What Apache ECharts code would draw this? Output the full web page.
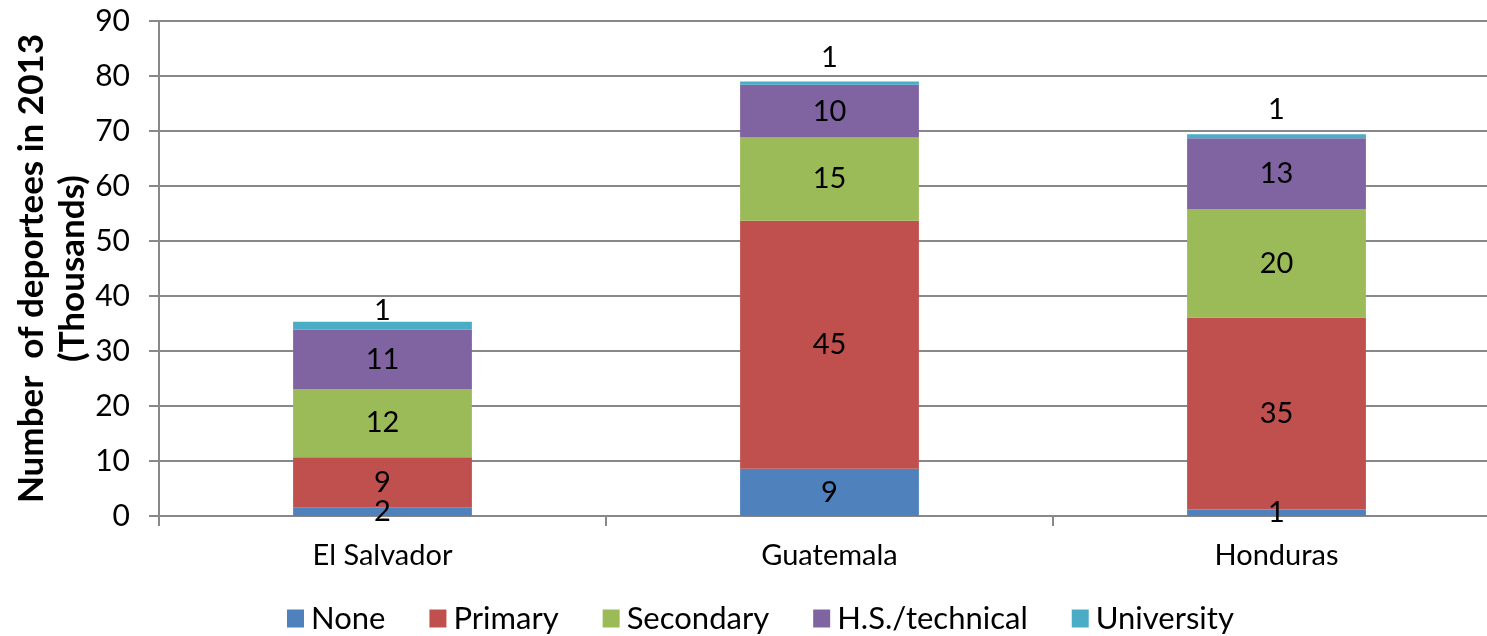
<!DOCTYPE html>
<html>
<head>
<meta charset="utf-8">
<script src="https://cdn.jsdelivr.net/npm/echarts@6/dist/echarts.min.js"></script>
<style>
html,body{margin:0;padding:0;background:#fff;}
#c{width:1487px;height:636px;}
</style>
</head>
<body>
<div id="c"></div>
<script>
const categories = ['El Salvador', 'Guatemala', 'Honduras'];
const seriesNames = ['None', 'Primary', 'Secondary', 'H.S./technical', 'University'];
const noneVals = [1.6, 8.6, 1.2];
const primaryVals = [9.1, 45.1, 34.9];
const secondaryVals = [12.4, 15.1, 19.7];
const hsVals = [10.8, 9.6, 12.9];
const universityVals = [1.4, 0.6, 0.7];
const yTicks = [0, 10, 20, 30, 40, 50, 60, 70, 80, 90];

const colors = ['#4F81BD', '#C0504D', '#9BBB59', '#8064A2', '#4BACC6'];
const allVals = [noneVals, primaryVals, secondaryVals, hsVals, universityVals];
const FONT = 'Lato';
const topLabelDist = [-3, 9, 10];

const series = allVals.map((vals, i) => {
  const isTop = i === allVals.length - 1;
  return {
    name: seriesNames[i],
    type: 'bar',
    stack: 'total',
    barWidth: '40%',
    itemStyle: { color: colors[i] },
    label: {
      show: true,
      position: isTop ? 'top' : 'inside',
      color: '#000',
      fontFamily: FONT,
      fontSize: 29,
      formatter: p => String(Math.round(p.value))
    },
    data: vals.map((v, j) => isTop ? { value: v, label: { distance: topLabelDist[j] } } : v)
  };
});

const chart = echarts.init(document.getElementById('c'));
chart.setOption({
  animation: false,
  color: colors,
  grid: { left: 159, width: 1341, top: 21, bottom: 120, containLabel: false, outerBoundsMode: 'none' },
  legend: {
    data: seriesNames,
    left: 282,
    top: 598,
    itemWidth: 17,
    itemHeight: 18,
    itemGap: 44,
    icon: 'rect',
    textStyle: { fontFamily: FONT, fontSize: 31, color: '#000', padding: [0, 0, 0, 2] }
  },
  xAxis: {
    type: 'category',
    data: categories,
    axisLine: { lineStyle: { color: '#888', width: 2 } },
    axisTick: { show: true, length: 10, lineStyle: { color: '#888', width: 2 } },
    axisLabel: { color: '#000', fontFamily: FONT, fontSize: 29, margin: 25 }
  },
  yAxis: {
    type: 'value',
    min: yTicks[0],
    max: yTicks[yTicks.length - 1],
    interval: yTicks[1] - yTicks[0],
    name: 'Number  of deportees in 2013\n(Thousands)',
    nameLocation: 'middle',
    nameGap: 66,
    nameMoveOverlap: false,
    nameRotate: 90,
    nameTextStyle: { fontFamily: FONT, fontSize: 35, fontWeight: 'bold', color: '#000', lineHeight: 41 },
    axisLine: { show: true, lineStyle: { color: '#888', width: 2 } },
    axisTick: { show: true, length: 10, lineStyle: { color: '#888', width: 2 } },
    axisLabel: { color: '#000', fontFamily: FONT, fontSize: 30, margin: 29 },
    splitLine: { show: true, lineStyle: { color: '#888', width: 2 } }
  },
  series: series
});
</script>
</body>
</html>
